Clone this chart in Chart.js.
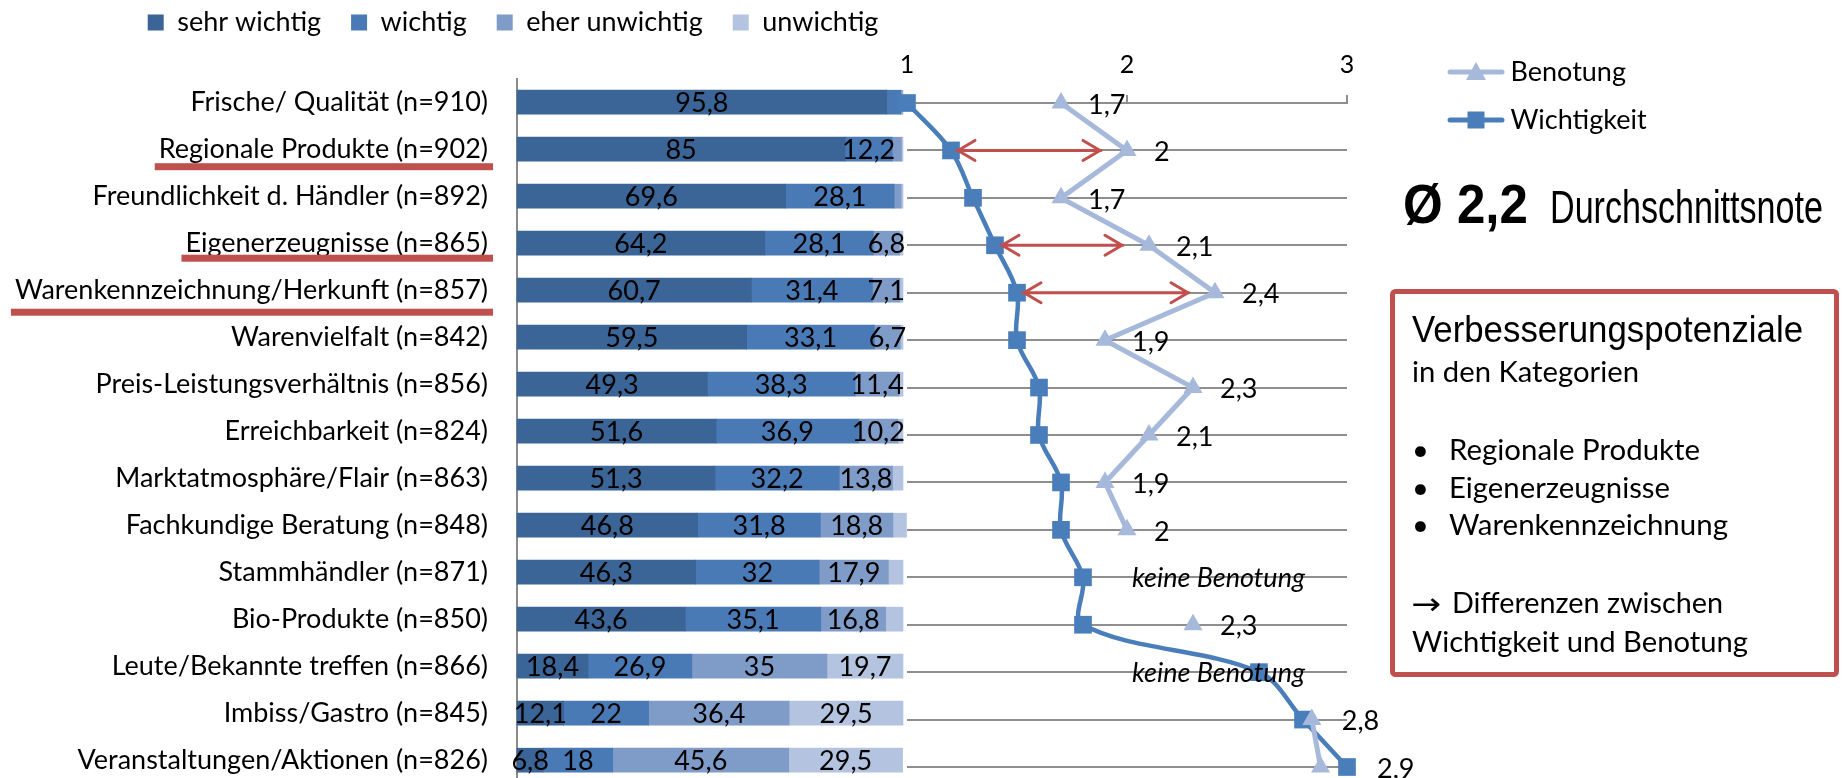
<!DOCTYPE html>
<html><head><meta charset="utf-8">
<script src="https://cdn.jsdelivr.net/npm/chart.js@4.4.0/dist/chart.umd.min.js"></script>
<style>
html,body{margin:0;padding:0;width:1843px;height:778px;overflow:hidden;background:#fff;}
canvas{position:absolute;}
#bar{left:0;top:0;}
#line{left:880px;top:0;}
#panel{position:absolute;left:0;top:0;pointer-events:none;}
</style></head><body>
<canvas id="bar" width="1000" height="870"></canvas>
<canvas id="line" width="963" height="800"></canvas>
<svg id="panel" width="1843" height="778" xmlns="http://www.w3.org/2000/svg">
  <g font-family="Liberation Sans, Arial, sans-serif" fill="#000">
    <text x="1403" y="223" font-size="55" font-weight="bold" textLength="125" lengthAdjust="spacingAndGlyphs">Ø 2,2</text>
    <text x="1550" y="223" font-size="46" textLength="273" lengthAdjust="spacingAndGlyphs">Durchschnittsnote</text>
    <rect x="1392.5" y="291.5" width="444" height="383" rx="3" fill="none" stroke="#C0504D" stroke-width="5"/>
    <text x="1412" y="342" font-size="37" textLength="391" lengthAdjust="spacingAndGlyphs">Verbesserungspotenziale</text>
  </g>
  <g font-family="Lato, sans-serif" font-size="29" fill="#000">
    <text x="1412" y="382" textLength="227" lengthAdjust="spacingAndGlyphs">in den Kategorien</text>
    <text x="1412" y="460">•</text>
    <text x="1449" y="460" textLength="251" lengthAdjust="spacingAndGlyphs">Regionale Produkte</text>
    <text x="1412" y="498">•</text>
    <text x="1449" y="498" textLength="221" lengthAdjust="spacingAndGlyphs">Eigenerzeugnisse</text>
    <text x="1412" y="535">•</text>
    <text x="1449" y="535" textLength="279" lengthAdjust="spacingAndGlyphs">Warenkennzeichnung</text>
    <text x="1411" y="614" font-family="DejaVu Sans, sans-serif" font-size="30" textLength="30" lengthAdjust="spacingAndGlyphs">→</text>
    <text x="1452" y="613" textLength="271" lengthAdjust="spacingAndGlyphs">Differenzen zwischen</text>
    <text x="1412" y="652" textLength="336" lengthAdjust="spacingAndGlyphs">Wichtigkeit und Benotung</text>
  </g>
</svg>
<script>
// ---------------- data ----------------
const categories = [
  'Frische/ Qualität (n=910)',
  'Regionale Produkte (n=902)',
  'Freundlichkeit d. Händler (n=892)',
  'Eigenerzeugnisse (n=865)',
  'Warenkennzeichnung/Herkunft (n=857)',
  'Warenvielfalt (n=842)',
  'Preis-Leistungsverhältnis (n=856)',
  'Erreichbarkeit (n=824)',
  'Marktatmosphäre/Flair (n=863)',
  'Fachkundige Beratung (n=848)',
  'Stammhändler (n=871)',
  'Bio-Produkte (n=850)',
  'Leute/Bekannte treffen (n=866)',
  'Imbiss/Gastro (n=845)',
  'Veranstaltungen/Aktionen (n=826)'
];
const seriesNames = ['sehr wichtig', 'wichtig', 'eher unwichtig', 'unwichtig'];
const sehrWichtig   = [95.8, 85, 69.6, 64.2, 60.7, 59.5, 49.3, 51.6, 51.3, 46.8, 46.3, 43.6, 18.4, 12.1, 6.8];
const wichtig       = [3.6, 12.2, 28.1, 28.1, 31.4, 33.1, 38.3, 36.9, 32.2, 31.8, 32, 35.1, 26.9, 22, 18];
const eherUnwichtig = [0.4, 2.4, 1.8, 6.8, 7.1, 6.7, 11.4, 10.2, 13.8, 18.8, 17.9, 16.8, 35, 36.4, 45.6];
const unwichtig     = [0.2, 0.4, 0.5, 0.9, 0.8, 0.7, 1.0, 1.3, 2.7, 3.5, 3.8, 4.5, 19.7, 29.5, 29.5];
const lineNames = ['Benotung', 'Wichtigkeit'];
const benotung    = [1.7, 2.0, 1.7, 2.1, 2.4, 1.9, 2.3, 2.1, 1.9, 2.0, null, 2.3, null, 2.84, 2.88];
const wichtigkeit = [1.0, 1.2, 1.3, 1.4, 1.5, 1.5, 1.6, 1.6, 1.7, 1.7, 1.8, 1.8, 2.6, 2.8, 3.0];
const gradeTicks = [1, 2, 3];
const highlightedRows = [1, 3, 4];
const noGradeText = 'keine Benotung';

// ---------------- styles ----------------
const FONT = 'Lato';
Chart.defaults.font.family = FONT;
Chart.defaults.color = '#000';
const barColors = ['#3B6497', '#4A7AB6', '#7F9CC9', '#B4C4E0'];
const GRID = '#8e8e8e';
const RED = '#C0504D';
const C_BEN = '#A7B9DA';
const C_WICH = '#4A7EBB';
const underlineOffsets = {1: 17.5, 3: 15, 4: 22};
const fmt = v => String(Math.round(v * 10) / 10).replace('.', ',');

// ---------------- bar chart ----------------
const BS = {P: 4, PR: 91.6, wy: 513, wr: 5.4, hx: 32.7, PB: 65.3};
const barValueLabels = {
  id: 'barValueLabels',
  afterDatasetsDraw(chart) {
    const ctx = chart.ctx;
    ctx.save();
    ctx.font = '27px ' + FONT;
    ctx.fillStyle = '#000';
    ctx.textAlign = 'center';
    ctx.textBaseline = 'middle';
    chart.data.datasets.forEach((ds, i) => {
      chart.getDatasetMeta(i).data.forEach((el, j) => {
        const v = ds.data[j];
        if (v < 5) return;
        ctx.fillText(fmt(v), (el.x + el.base) / 2, el.y + 1);
      });
    });
    ctx.restore();
  },
  afterDraw(chart) {
    const ctx = chart.ctx, yS = chart.scales.y;
    ctx.save();
    ctx.font = '27px ' + FONT;
    highlightedRows.forEach(r => {
      const w = ctx.measureText(categories[r]).width;
      const right = yS.right - 29;
      const left = right - w - 4;
      const y = yS.getPixelForValue(r) + underlineOffsets[r];
      ctx.fillStyle = RED;
      ctx.fillRect(left, y - 3.5, (yS.right - 24) - left, 7);
    });
    ctx.restore();
  }
};
const barChart = new Chart(document.getElementById('bar'), {
  type: 'bar',
  data: {
    labels: categories,
    datasets: [sehrWichtig, wichtig, eherUnwichtig, unwichtig].map((d, i) => ({
      label: seriesNames[i], data: d, backgroundColor: barColors[i],
      borderWidth: 0, barThickness: 24, clip: false
    }))
  },
  options: {
    indexAxis: 'y', responsive: false, animation: false, events: [],
    layout: {autoPadding: false, padding: {left: BS.P, top: 0, right: BS.PR, bottom: BS.PB}},
    scales: {
      x: {type: 'linear', position: 'top', min: 0, max: 100, stacked: true,
          ticks: {display: false}, grid: {display: false, drawTicks: false}, border: {display: false},
          afterFit: s => { s.height = BS.hx; }},
      y: {type: 'category', stacked: true, offset: true,
          grid: {display: false, drawTicks: false},
          border: {display: true, color: '#8a8a8a', width: 2},
          ticks: {font: {family: FONT, size: 27}, color: '#000', padding: 29, autoSkip: false},
          afterFit: s => { s.width = BS.wy; }},
      spacer: {type: 'linear', axis: 'y', position: 'right', display: true,
          ticks: {display: false}, grid: {display: false, drawTicks: false}, border: {display: false},
          afterFit: s => { s.width = Math.max(0, BS.wr); }}
    },
    plugins: {
      legend: {position: 'top', align: 'end', maxWidth: 2000,
        labels: {boxWidth: 16, boxHeight: 16, padding: 30, font: {family: FONT, size: 27}, color: '#000'}},
      tooltip: {enabled: false}
    }
  },
  plugins: [barValueLabels]
});
for (let k = 0; k < 3; k++) {
  const ca = barChart.chartArea, hb = barChart.legend.legendHitBoxes[0];
  const T0 = 22.3 - (hb.top + hb.height / 2);
  const dR = hb.left - 147.7;
  BS.PR += dR;
  BS.wr += (ca.right - dR) - 903;
  BS.wy += 517 - ca.left;
  BS.hx += (78.5 - T0) - ca.top;
  BS.PB += ca.bottom - (783.5 - T0);
  barChart.options.layout.padding = {left: BS.P, top: 0, right: BS.PR, bottom: BS.PB};
  barChart.update('none');
  barChart.canvas.style.top = T0 + 'px';
}

// ---------------- line chart ----------------
function makeIcon(color, shape) {
  const c = document.createElement('canvas');
  c.width = 58; c.height = 24;
  const g = c.getContext('2d');
  g.strokeStyle = color; g.lineWidth = 5; g.lineCap = 'round';
  g.beginPath(); g.moveTo(3, 12); g.lineTo(55, 12); g.stroke();
  g.fillStyle = color;
  if (shape === 'triangle') {
    g.beginPath(); g.moveTo(29, 2); g.lineTo(39, 20); g.lineTo(19, 20); g.closePath(); g.fill();
  } else {
    g.fillRect(20.5, 3.5, 17, 17);
  }
  return c;
}
const icons = [makeIcon(C_BEN, 'triangle'), makeIcon(C_WICH, 'rect')];
const LS = {PL: 27, PR: 192, g: 87, hx: 103, PB: 33, tp: 25.5};

function drawArrow(ctx, x1, x2, y) {
  ctx.beginPath();
  ctx.moveTo(x1, y); ctx.lineTo(x2, y);
  ctx.moveTo(x1 + 18, y - 10); ctx.lineTo(x1 + 1, y); ctx.lineTo(x1 + 18, y + 10);
  ctx.moveTo(x2 - 18, y - 10); ctx.lineTo(x2 - 1, y); ctx.lineTo(x2 - 18, y + 10);
  ctx.stroke();
}
const lineAnnotations = {
  id: 'lineAnnotations',
  afterDatasetsDraw(chart) {
    const ctx = chart.ctx, xS = chart.scales.x, yS = chart.scales.y;
    ctx.save();
    ctx.fillStyle = '#000';
    ctx.textAlign = 'left';
    ctx.textBaseline = 'middle';
    benotung.forEach((b, i) => {
      const y = yS.getPixelForValue(i + 1);
      if (b === null) {
        ctx.font = 'italic 27px ' + FONT;
        ctx.fillText(noGradeText, xS.getPixelForValue(2) + 5, y + 1);
        return;
      }
      const bx = xS.getPixelForValue(b), wx = xS.getPixelForValue(wichtigkeit[i]);
      const lx = Math.abs(bx - wx) < 30 ? Math.max(bx, wx) + 30 : bx + 27;
      ctx.font = '27px ' + FONT;
      ctx.fillText(fmt(b), lx, y + 2);
    });
    ctx.strokeStyle = RED;
    ctx.lineWidth = 3;
    ctx.lineCap = 'round';
    ctx.lineJoin = 'round';
    highlightedRows.forEach(r => {
      const y = yS.getPixelForValue(r + 1);
      drawArrow(ctx, xS.getPixelForValue(wichtigkeit[r]) + 6, xS.getPixelForValue(benotung[r]) - 26, y);
    });
    ctx.restore();
  }
};
const toPts = arr => arr.map((v, i) => ({x: v, y: i + 1}));
const lineChart = new Chart(document.getElementById('line'), {
  type: 'line',
  data: {
    datasets: [
      {label: lineNames[0], data: toPts(benotung), borderColor: C_BEN, backgroundColor: C_BEN,
       borderWidth: 5, pointStyle: 'triangle', pointRadius: 11, pointBorderWidth: 0,
       tension: 0, spanGaps: false, clip: false},
      {label: lineNames[1], data: toPts(wichtigkeit), borderColor: C_WICH, backgroundColor: C_WICH,
       borderWidth: 4.5, pointStyle: 'rect', pointRadius: 12.5, pointBorderWidth: 0,
       tension: 0.35, clip: false}
    ]
  },
  options: {
    indexAxis: 'y', responsive: false, animation: false, events: [],
    layout: {autoPadding: false, padding: {left: LS.PL, top: 0, right: LS.PR, bottom: LS.PB}},
    scales: {
      x: {type: 'linear', position: 'top', min: gradeTicks[0], max: gradeTicks[gradeTicks.length - 1],
          afterBuildTicks: s => { s.ticks = gradeTicks.map(v => ({value: v})); },
          ticks: {font: {family: FONT, size: 25}, color: '#000', padding: 15},
          grid: {drawOnChartArea: false, drawTicks: true, tickLength: 8, color: GRID, lineWidth: 2},
          border: {display: true, color: GRID, width: 2},
          afterFit: s => { s.height = LS.hx; }},
      y: {type: 'linear', min: 1, max: categories.length, reverse: true,
          ticks: {display: false, stepSize: 1},
          grid: {color: GRID, lineWidth: 2, drawTicks: false}, border: {display: false},
          afterFit: s => { s.width = 0; }},
      gap: {type: 'linear', axis: 'y', position: 'right', display: true,
          ticks: {display: false}, grid: {display: false, drawTicks: false}, border: {display: false},
          afterFit: s => { s.width = LS.g; }}
    },
    plugins: {
      legend: {position: 'right', align: 'start', maxWidth: 400,
        title: {display: true, text: ' ', font: {size: 10}, padding: {top: LS.tp, bottom: 0}},
        labels: {usePointStyle: true, pointStyleWidth: 42, padding: 21,
          font: {family: FONT, size: 27}, color: '#000',
          generateLabels: chart => chart.data.datasets.map((ds, i) => ({
            text: ds.label, pointStyle: icons[i], fillStyle: 'rgba(0,0,0,0)',
            strokeStyle: 'rgba(0,0,0,0)', lineWidth: 0, hidden: false, datasetIndex: i
          }))}},
      tooltip: {enabled: false}
    }
  },
  plugins: [lineAnnotations]
});
for (let k = 0; k < 3; k++) {
  const ca = lineChart.chartArea, hb = lineChart.legend.legendHitBoxes[0];
  const dLeg = hb.left - 575;
  LS.PR += dLeg;
  LS.g += (ca.right - dLeg) - 467;
  LS.PL += 27 - ca.left;
  LS.hx += 103 - ca.top;
  LS.PB += ca.bottom - 767;
  LS.tp += 58.5 - hb.top;
  lineChart.options.layout.padding = {left: LS.PL, top: 0, right: LS.PR, bottom: LS.PB};
  lineChart.options.plugins.legend.title.padding = {top: LS.tp, bottom: 0};
  lineChart.update('none');
}
</script>
</body></html>
